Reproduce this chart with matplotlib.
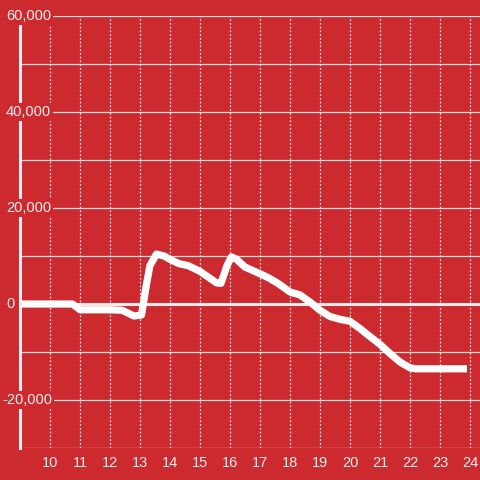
import matplotlib
matplotlib.use("Agg")
import matplotlib.pyplot as plt
from matplotlib.transforms import blended_transform_factory

# hour of day vs running balance
hours = [9.0, 10.0, 10.75, 11.0, 11.5, 12.0, 12.4, 12.8, 13.05, 13.2, 13.33, 13.55, 13.8,
         14.0, 14.3, 14.6, 15.0, 15.3, 15.55, 15.7, 15.9, 16.05, 16.2, 16.5, 17.0, 17.3,
         17.6, 18.0, 18.33, 18.67, 19.0, 19.33, 19.67, 20.0, 20.33, 20.67, 21.0, 21.33,
         21.67, 22.0, 22.2, 23.0, 23.9]
balance = [0, 0, 0, -1200, -1200, -1200, -1300, -2500, -2300, 3500, 8000, 10400, 10000,
           9300, 8400, 8000, 6800, 5500, 4400, 4300, 8000, 9800, 9400, 7700, 6300, 5400,
           4300, 2500, 1900, 400, -1300, -2600, -3200, -3600, -5100, -6800, -8400, -10300,
           -12100, -13300, -13500, -13500, -13500]

y_labels = [60000, 40000, 20000, 0, -20000]
x_ticks = list(range(10, 25))

bg = "#cd2a30"
fg = "#eeeeee"
plt.rcParams["font.family"] = ["Liberation Sans", "DejaVu Sans"]

fig = plt.figure(figsize=(4.8, 4.8), dpi=100, facecolor=bg)
ax = fig.add_axes([20 / 480, 32 / 480, 460 / 480, 432 / 480], facecolor=bg)

ax.set_xlim(9, 9 + 460 / 30)
ax.set_ylim(-30000, 60000)

# grid
for v in range(-30000, 60001, 10000):
    ax.axhline(v, color="#dddddd", lw=0.9, zorder=1)
for h in x_ticks:
    ax.axvline(h, color="#dddddd", lw=0.9, ls=(0, (1.5, 1.5)), zorder=1)
ax.axhline(0, color=fg, lw=2.2, zorder=2)

ax.plot(hours, balance, color="white", lw=5.2, solid_capstyle="butt",
        solid_joinstyle="round", zorder=3)

for s in ["top", "right", "bottom"]:
    ax.spines[s].set_visible(False)
ax.spines["left"].set_color(fg)
ax.spines["left"].set_linewidth(2.2)
ax.spines["left"].set_zorder(4)

ax.set_yticks([])
ax.set_xticks(x_ticks)
ax.set_xticklabels([str(h) for h in x_ticks])
ax.tick_params(axis="x", length=0, pad=6, colors=fg, labelsize=10.5)

# y labels sit left-aligned over the axis line
trans = blended_transform_factory(fig.transFigure, ax.transData)
for v in y_labels:
    xpx = 2 if v < 0 else 6
    ax.text(xpx / 480, v, f"{v:,}", ha="left", va="center", color=fg, fontsize=10.5,
            transform=trans, clip_on=False, zorder=5,
            bbox=dict(boxstyle="square,pad=0.12", fc=bg, ec="none"))

fig.savefig("out.png", dpi=100, facecolor=bg)
